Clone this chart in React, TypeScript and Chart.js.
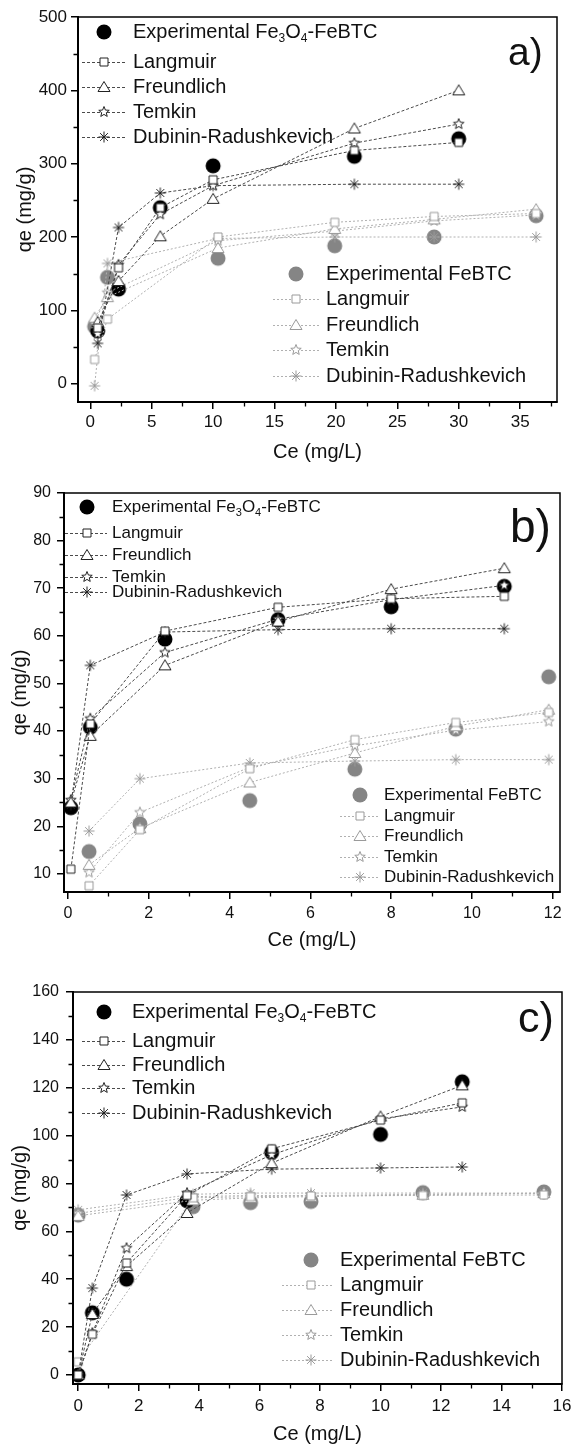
import React, { useEffect, useRef } from 'react';
import { Chart, registerables } from 'chart.js';

Chart.register(...registerables);

const FONT = '"Liberation Sans", Arial, Helvetica, sans-serif';
const PAGE_W = 571;

const modelNames = ['Langmuir', 'Freundlich', 'Temkin', 'Dubinin-Radushkevich'];
const feLabel = 'Experimental Fe_3O_4-FeBTC';
const btcLabel = 'Experimental FeBTC';
const xTitle = 'Ce (mg/L)';
const yTitle = 'qe (mg/g)';

// ---------- a) ----------
const aFeCe = [0.6, 2.3, 5.7, 10, 21.5, 30];
const aFeQe = [72, 129, 240, 297, 310, 334];
const aFeLangmuir = [76, 158, 240, 278, 318, 329];
const aFeFreundlich = [84, 140, 201, 252, 348, 400];
const aFeTemkin = [68, 162, 231, 270, 328, 354];
const aFeDR = [55, 213, 260, 270, 272, 272];
const aBtcCe = [0.35, 1.4, 10.4, 19.9, 28, 36.3];
const aBtcQe = [78, 145, 171, 188, 200, 229];
const aBtcLangmuir = [33, 88, 200, 220, 228, 232];
const aBtcFreundlich = [90, 118, 185, 211, 224, 238];
const aBtcTemkin = [82, 124, 195, 208, 222, 230];
const aBtcDR = [-3, 164, 198, 200, 200, 200];
const aXTicks = [0, 5, 10, 15, 20, 25, 30, 35];
const aXMinor = [2.5, 7.5, 12.5, 17.5, 22.5, 27.5, 32.5, 37.5];
const aYTicks = [0, 100, 200, 300, 400, 500];
const aYMinor = [50, 150, 250, 350, 450];

// ---------- b) ----------
const bFeCe = [0.07, 0.55, 2.4, 5.2, 8.0, 10.8];
const bFeQe = [23.9, 40.8, 59.3, 63.4, 66.1, 70.4];
const bFeLangmuir = [11, 41.5, 61, 66, 67.8, 68.3];
const bFeFreundlich = [25, 39, 53.8, 63, 69.8, 74.2];
const bFeTemkin = [25.5, 42.6, 56.5, 63.5, 67.6, 70.6];
const bFeDR = [24.5, 53.8, 60.8, 61.3, 61.5, 61.5];
const bBtcCe = [0.52, 1.78, 4.5, 7.1, 9.6, 11.9];
const bBtcQe = [14.7, 20.5, 25.4, 32, 40.4, 51.4];
const bBtcLangmuir = [7.5, 19.3, 32.1, 38.2, 41.8, 43.9];
const bBtcFreundlich = [11.9, 19.6, 29.2, 35.4, 41, 44.5];
const bBtcTemkin = [10.3, 22.9, 32.4, 36.9, 40.2, 42];
const bBtcDR = [19, 30, 33.3, 33.7, 34, 34];
const bXTicks = [0, 2, 4, 6, 8, 10, 12];
const bXMinor = [1, 3, 5, 7, 9, 11];
const bYTicks = [10, 20, 30, 40, 50, 60, 70, 80, 90];
const bYMinor = [15, 25, 35, 45, 55, 65, 75, 85];

// ---------- c) ----------
const cFeCe = [0, 0.47, 1.6, 3.6, 6.4, 10, 12.7];
const cFeQe = [0, 26, 40, 72.8, 93, 100.5, 122.5];
const cFeLangmuir = [0, 17, 46.8, 75, 94.5, 106.5, 113.7];
const cFeFreundlich = [0, 25.5, 45.5, 67.7, 88.5, 108, 121];
const cFeTemkin = [0, 17.5, 53, 76, 92, 107, 112];
const cFeDR = [0, 36.3, 75.2, 84, 86, 86.5, 86.9];
const cBtcCe = [0, 3.8, 5.7, 7.7, 11.4, 15.4];
const cBtcQe = [66.8, 70.3, 72, 72.5, 76.2, 76.5];
const cBtcLangmuir = [5.5, 74, 74.5, 74.8, 75, 75.2];
const cBtcFreundlich = [66.5, 73, 74, 74.5, 75.3, 76];
const cBtcTemkin = [67.5, 74.5, 75, 75, 75.5, 75.8];
const cBtcDR = [69, 75.5, 76, 76, 76, 76];
const cXTicks = [0, 2, 4, 6, 8, 10, 12, 14, 16];
const cXMinor = [1, 3, 5, 7, 9, 11, 13, 15];
const cYTicks = [0, 20, 40, 60, 80, 100, 120, 140, 160];
const cYMinor = [10, 30, 50, 70, 90, 110, 130, 150];

type Group = { ce: number[]; exp: number[]; models: number[][] };
type Legend = { cx: number; tx: number; x0: number; x1: number; rows: number[]; size: number };
type Axis = { min: number; max: number; ticks: number[]; minor: number[]; pad: number; titlePad: number; font: number };
type PanelSpec = {
  tag: string;
  top: number;
  height: number;
  area: { l: number; t: number; r: number; b: number };
  x: Axis;
  y: Axis;
  fe: Group;
  btc: Group;
  legFe: Legend;
  legBtc: Legend;
  tagPos: { x: number; y: number; size: number };
};

const panels: PanelSpec[] = [
  {
    tag: 'a)', top: 0, height: 470,
    area: { l: 78, t: 17, r: 557, b: 402 },
    x: { min: -1, max: 38, ticks: aXTicks, minor: aXMinor, pad: 3.5, titlePad: 6, font: 17 },
    y: { min: -25, max: 500, ticks: aYTicks, minor: aYMinor, pad: 4, titlePad: 13.5, font: 17 },
    fe: { ce: aFeCe, exp: aFeQe, models: [aFeLangmuir, aFeFreundlich, aFeTemkin, aFeDR] },
    btc: { ce: aBtcCe, exp: aBtcQe, models: [aBtcLangmuir, aBtcFreundlich, aBtcTemkin, aBtcDR] },
    legFe: { cx: 104, tx: 133, x0: 82, x1: 127, rows: [32, 62, 87, 112, 137], size: 20 },
    legBtc: { cx: 296, tx: 326, x0: 273, x1: 320, rows: [274, 299, 325, 350, 376], size: 20 },
    tagPos: { x: 508, y: 65, size: 39 },
  },
  {
    tag: 'b)', top: 470, height: 485,
    area: { l: 64, t: 23, r: 560, b: 422 },
    x: { min: -0.1, max: 12.18, ticks: bXTicks, minor: bXMinor, pad: 5, titlePad: 3, font: 16 },
    y: { min: 6.2, max: 90, ticks: bYTicks, minor: bYMinor, pad: 6, titlePad: 8, font: 16 },
    fe: { ce: bFeCe, exp: bFeQe, models: [bFeLangmuir, bFeFreundlich, bFeTemkin, bFeDR] },
    btc: { ce: bBtcCe, exp: bBtcQe, models: [bBtcLangmuir, bBtcFreundlich, bBtcTemkin, bBtcDR] },
    legFe: { cx: 87, tx: 112, x0: 65, x1: 107, rows: [37, 63, 85, 107, 122], size: 17 },
    legBtc: { cx: 360, tx: 384, x0: 340, x1: 380, rows: [325, 346, 366, 387, 407], size: 17 },
    tagPos: { x: 510, y: 72, size: 46 },
  },
  {
    tag: 'c)', top: 955, height: 495,
    area: { l: 73, t: 37, r: 562, b: 429 },
    x: { min: -0.17, max: 16, ticks: cXTicks, minor: cXMinor, pad: 5, titlePad: 4, font: 17 },
    y: { min: -3.76, max: 160, ticks: cYTicks, minor: cYMinor, pad: 7, titlePad: 8, font: 16 },
    fe: { ce: cFeCe, exp: cFeQe, models: [cFeLangmuir, cFeFreundlich, cFeTemkin, cFeDR] },
    btc: { ce: cBtcCe, exp: cBtcQe, models: [cBtcLangmuir, cBtcFreundlich, cBtcTemkin, cBtcDR] },
    legFe: { cx: 104, tx: 132, x0: 82, x1: 126, rows: [57, 86, 110, 133, 158], size: 20 },
    legBtc: { cx: 311, tx: 340, x0: 282, x1: 334, rows: [305, 330, 355, 380, 405], size: 20 },
    tagPos: { x: 518, y: 77, size: 43 },
  },
];

// Marker sprites used both for the plotted points and the legend keys
function makeMarker(kind: string, stroke: string, fill: string): HTMLCanvasElement {
  const s = 20;
  const c = document.createElement('canvas');
  c.width = s;
  c.height = s;
  const g = c.getContext('2d')!;
  g.translate(s / 2, s / 2);
  g.lineWidth = 1;
  g.strokeStyle = stroke;
  g.fillStyle = fill;
  g.beginPath();
  if (kind === 'dot') {
    g.arc(0, 0, 7.5, 0, Math.PI * 2);
    g.fill();
  } else if (kind === 'square') {
    g.rect(-4, -4, 8, 8);
    g.fill();
    g.stroke();
  } else if (kind === 'triangle') {
    g.moveTo(0, -5.5);
    g.lineTo(6, 4.5);
    g.lineTo(-6, 4.5);
    g.closePath();
    g.fill();
    g.stroke();
  } else if (kind === 'star') {
    for (let i = 0; i < 10; i++) {
      const r = i % 2 === 0 ? 5.5 : 2.4;
      const ang = -Math.PI / 2 + (i * Math.PI) / 5;
      const px = r * Math.cos(ang);
      const py = r * Math.sin(ang);
      if (i === 0) g.moveTo(px, py);
      else g.lineTo(px, py);
    }
    g.closePath();
    g.fill();
    g.stroke();
  } else if (kind === 'asterisk') {
    const r = 5.5;
    for (let i = 0; i < 4; i++) {
      const ang = (i * Math.PI) / 4;
      g.moveTo(-r * Math.cos(ang), -r * Math.sin(ang));
      g.lineTo(r * Math.cos(ang), r * Math.sin(ang));
    }
    g.stroke();
  }
  return c;
}

type MarkerSet = { dot: HTMLCanvasElement; models: HTMLCanvasElement[] };

function makeMarkerSet(dotColor: string, stroke: string): MarkerSet {
  return {
    dot: makeMarker('dot', dotColor, dotColor),
    models: ['square', 'triangle', 'star', 'asterisk'].map((k) => makeMarker(k, stroke, '#fff')),
  };
}

const FE_LINE = '#4a4a4a';
const BTC_LINE = '#b0b0b0';
const FE_DASH = [3, 2];
const BTC_DASH = [2, 2];

function drawRich(ctx: CanvasRenderingContext2D, text: string, x: number, y: number, size: number) {
  const parts = text.split(/(_\d)/).filter(Boolean);
  let cx = x;
  for (const part of parts) {
    if (part.startsWith('_')) {
      const t = part.slice(1);
      ctx.font = `${Math.round(size * 0.62)}px ${FONT}`;
      ctx.fillText(t, cx, y + size * 0.33);
      cx += ctx.measureText(t).width;
    } else {
      ctx.font = `${size}px ${FONT}`;
      ctx.fillText(part, cx, y);
      cx += ctx.measureText(part).width;
    }
  }
}

function drawLegend(
  ctx: CanvasRenderingContext2D,
  L: Legend,
  label: string,
  mk: MarkerSet,
  lineColor: string,
  dash: number[]
) {
  ctx.save();
  ctx.fillStyle = '#111';
  ctx.textBaseline = 'middle';
  ctx.textAlign = 'left';
  ctx.drawImage(mk.dot, L.cx - mk.dot.width / 2, L.rows[0] - mk.dot.height / 2);
  drawRich(ctx, label, L.tx, L.rows[0], L.size);
  ctx.font = `${L.size}px ${FONT}`;
  modelNames.forEach((name, i) => {
    const y = L.rows[i + 1];
    ctx.save();
    ctx.strokeStyle = lineColor;
    ctx.lineWidth = 1;
    ctx.setLineDash(dash);
    ctx.beginPath();
    ctx.moveTo(L.x0, y + 0.5);
    ctx.lineTo(L.x1, y + 0.5);
    ctx.stroke();
    ctx.restore();
    const m = mk.models[i];
    ctx.drawImage(m, L.cx - m.width / 2, y - m.height / 2);
    ctx.fillText(name, L.tx, y);
  });
  ctx.restore();
}

function buildChart(canvas: HTMLCanvasElement, p: PanelSpec): Chart {
  const feMk = makeMarkerSet('#000', '#222');
  const btcMk = makeMarkerSet('#858585', '#9a9a9a');

  const toPts = (xs: number[], ys: number[]) => xs.map((x, j) => ({ x, y: ys[j] }));
  const datasets: any[] = [];
  p.fe.models.forEach((vals, i) =>
    datasets.push({
      label: modelNames[i],
      data: toPts(p.fe.ce, vals),
      showLine: true,
      borderColor: FE_LINE,
      borderWidth: 1,
      borderDash: FE_DASH,
      pointStyle: feMk.models[i],
      pointRadius: 5,
      order: 1,
    })
  );
  p.btc.models.forEach((vals, i) =>
    datasets.push({
      label: modelNames[i],
      data: toPts(p.btc.ce, vals),
      showLine: true,
      borderColor: BTC_LINE,
      borderWidth: 1,
      borderDash: BTC_DASH,
      pointStyle: btcMk.models[i],
      pointRadius: 5,
      order: 2,
    })
  );
  datasets.push({
    label: feLabel,
    data: toPts(p.fe.ce, p.fe.exp),
    showLine: false,
    pointStyle: feMk.dot,
    pointRadius: 7,
    order: 3,
  });
  datasets.push({
    label: btcLabel,
    data: toPts(p.btc.ce, p.btc.exp),
    showLine: false,
    pointStyle: btcMk.dot,
    pointRadius: 7,
    order: 4,
  });

  const decor = {
    id: 'panelDecor',
    beforeDatasetsDraw(chart: any) {
      const ctx = chart.ctx as CanvasRenderingContext2D;
      drawLegend(ctx, p.legFe, feLabel, feMk, FE_LINE, FE_DASH);
      drawLegend(ctx, p.legBtc, btcLabel, btcMk, BTC_LINE, BTC_DASH);
      ctx.save();
      ctx.font = `${p.tagPos.size}px ${FONT}`;
      ctx.fillStyle = '#111';
      ctx.textAlign = 'left';
      ctx.textBaseline = 'alphabetic';
      ctx.fillText(p.tag, p.tagPos.x, p.tagPos.y);
      ctx.restore();
    },
    afterDraw(chart: any) {
      const ctx = chart.ctx as CanvasRenderingContext2D;
      const a = chart.chartArea;
      const xs = chart.scales.x;
      const ys = chart.scales.y;
      ctx.save();
      ctx.strokeStyle = '#000';
      ctx.lineWidth = 1.5;
      ctx.strokeRect(a.left, a.top, a.right - a.left, a.bottom - a.top);
      ctx.lineWidth = 1.3;
      ctx.beginPath();
      p.x.minor.forEach((v) => {
        const px = Math.round(xs.getPixelForValue(v)) + 0.5;
        ctx.moveTo(px, a.bottom);
        ctx.lineTo(px, a.bottom + 4.5);
      });
      p.y.minor.forEach((v) => {
        const py = Math.round(ys.getPixelForValue(v)) + 0.5;
        ctx.moveTo(a.left, py);
        ctx.lineTo(a.left - 4.5, py);
      });
      ctx.stroke();
      ctx.restore();
    },
  };

  const gridOpts = {
    display: true,
    drawOnChartArea: false,
    drawTicks: true,
    tickLength: 7,
    color: '#000',
    lineWidth: 1.5,
  };

  return new Chart(canvas, {
    type: 'scatter',
    data: { datasets },
    plugins: [decor],
    options: {
      responsive: false,
      animation: false,
      devicePixelRatio: 1,
      events: [],
      layout: { padding: { top: p.area.t, right: PAGE_W - p.area.r, bottom: 0, left: 0 } },
      plugins: { legend: { display: false }, tooltip: { enabled: false } },
      scales: {
        x: {
          type: 'linear',
          position: 'bottom',
          min: p.x.min,
          max: p.x.max,
          afterBuildTicks: (s: any) => {
            s.ticks = p.x.ticks.map((v) => ({ value: v }));
          },
          afterFit: (s: any) => {
            s.height = p.height - p.area.b;
            s.paddingLeft = 0;
            s.paddingRight = 0;
          },
          ticks: {
            font: { family: FONT, size: p.x.font },
            color: '#111',
            padding: p.x.pad,
            maxRotation: 0,
            autoSkip: false,
          },
          grid: gridOpts,
          border: { display: true, color: '#000', width: 2 },
          title: {
            display: true,
            text: xTitle,
            font: { family: FONT, size: 20 },
            color: '#111',
            padding: { top: 0, bottom: p.x.titlePad },
          },
        },
        y: {
          type: 'linear',
          position: 'left',
          min: p.y.min,
          max: p.y.max,
          afterBuildTicks: (s: any) => {
            s.ticks = p.y.ticks.map((v) => ({ value: v }));
          },
          afterFit: (s: any) => {
            s.width = p.area.l;
            s.paddingTop = 0;
            s.paddingBottom = 0;
          },
          ticks: {
            font: { family: FONT, size: p.y.font },
            color: '#111',
            padding: p.y.pad,
            autoSkip: false,
          },
          grid: gridOpts,
          border: { display: true, color: '#000', width: 2 },
          title: {
            display: true,
            text: yTitle,
            font: { family: FONT, size: 20 },
            color: '#111',
            padding: { top: p.y.titlePad, bottom: 0 },
          },
        },
      },
    } as any,
  });
}

function Panel({ p }: { p: PanelSpec }) {
  const ref = useRef<HTMLCanvasElement>(null);
  useEffect(() => {
    if (!ref.current) return;
    const chart = buildChart(ref.current, p);
    return () => chart.destroy();
  }, [p]);
  return (
    <canvas
      ref={ref}
      width={PAGE_W}
      height={p.height}
      style={{ position: 'absolute', left: 0, top: p.top, width: PAGE_W, height: p.height, display: 'block' }}
    />
  );
}

export default function App() {
  return (
    <div style={{ position: 'absolute', left: 0, top: 0, width: PAGE_W, height: 1450, background: '#fff' }}>
      {panels.map((p) => (
        <Panel key={p.tag} p={p} />
      ))}
    </div>
  );
}
